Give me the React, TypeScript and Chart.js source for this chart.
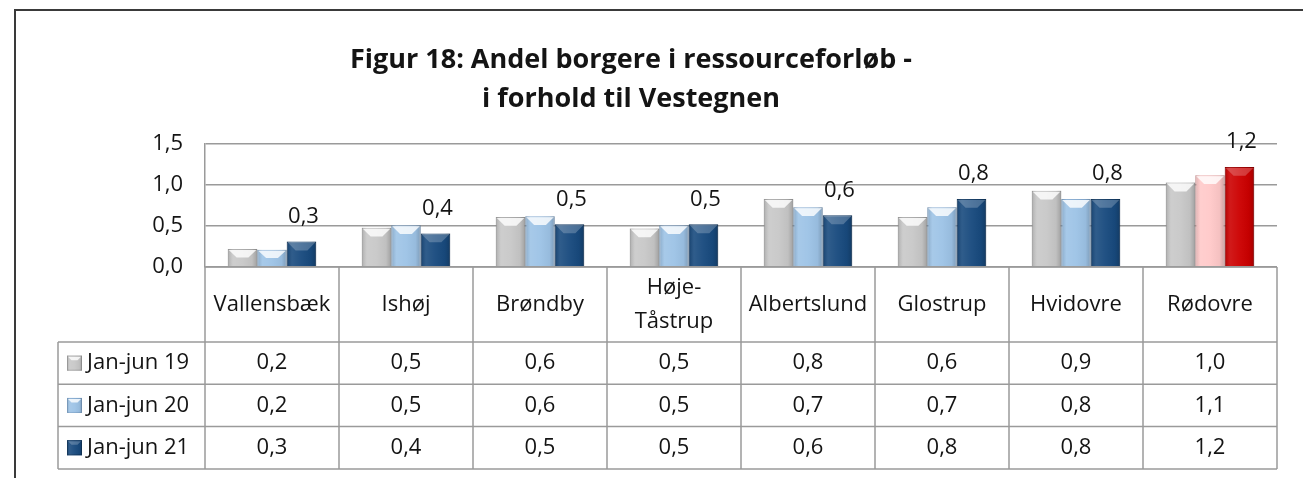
import React, { useEffect, useRef } from "react";
import { Chart, registerables } from "chart.js";
Chart.register(...registerables);

const categories = ["Vallensbæk", "Ishøj", "Brøndby", "Høje-Tåstrup", "Albertslund", "Glostrup", "Hvidovre", "Rødovre"];
const seriesNames = ["Jan-jun 19", "Jan-jun 20", "Jan-jun 21"];
const jan19 = [0.22, 0.48, 0.61, 0.47, 0.83, 0.61, 0.93, 1.03];
const jan20 = [0.21, 0.51, 0.62, 0.51, 0.73, 0.73, 0.83, 1.12];
const jan21 = [0.31, 0.41, 0.52, 0.52, 0.63, 0.83, 0.83, 1.22];
const yMin = 0;
const yMax = 1.5;
const yStep = 0.5;
const titleLines = ["Figur 18: Andel borgere i ressourceforløb -", "i forhold til Vestegnen"];
const highlightCategory = "Rødovre";

const baseColors = ["#c8c8c8", "#9dc3e6", "#184a7e"];
const highlightColors = ["#c8c8c8", "#ffc9c9", "#cc0000"];
const borderColors = ["#a9a9a9", "#84a9cf", "#123a63"];
const highlightBorders = ["#a9a9a9", "#e8a8a8", "#9a0000"];

const FONT = '"Open Sans", sans-serif';
const TEXT = "#141414";
const LINE = "#9a9a9a";
const fmt = (v: number) => v.toFixed(1).replace(".", ",");

function colorsFor(ds: number) {
  return categories.map((c) => (c === highlightCategory ? highlightColors[ds] : baseColors[ds]));
}
function bordersFor(ds: number) {
  return categories.map((c) => (c === highlightCategory ? highlightBorders[ds] : borderColors[ds]));
}

function bevel(ctx: CanvasRenderingContext2D, left: number, top: number, w: number, h: number, dark: boolean) {
  const g = ctx.createLinearGradient(left, 0, left + w, 0);
  g.addColorStop(0, "rgba(0,0,0,0.14)");
  g.addColorStop(0.18, "rgba(255,255,255,0.10)");
  g.addColorStop(0.5, "rgba(255,255,255,0.04)");
  g.addColorStop(0.82, "rgba(0,0,0,0.04)");
  g.addColorStop(1, "rgba(0,0,0,0.2)");
  ctx.fillStyle = g;
  ctx.fillRect(left, top, w, h);
  const ch = Math.min(h * 0.5, Math.max(4, w * 0.3));
  ctx.beginPath();
  ctx.moveTo(left + 1, top + 1);
  ctx.lineTo(left + w - 1, top + 1);
  ctx.lineTo(left + w * 0.7, top + ch);
  ctx.lineTo(left + w * 0.3, top + ch);
  ctx.closePath();
  ctx.fillStyle = dark ? "rgba(255,255,255,0.22)" : "rgba(255,255,255,0.8)";
  ctx.fill();
}

const decorPlugin = {
  id: "decor",
  beforeDraw(chart: any) {
    const ctx = chart.ctx as CanvasRenderingContext2D;
    ctx.save();
    ctx.fillStyle = "#ffffff";
    ctx.fillRect(0, 0, chart.width, chart.height);
    ctx.strokeStyle = "#3a3a3a";
    ctx.lineWidth = 2;
    ctx.beginPath();
    ctx.moveTo(15, chart.height);
    ctx.lineTo(15, 10);
    ctx.lineTo(chart.width, 10);
    ctx.stroke();
    ctx.fillStyle = TEXT;
    ctx.font = `bold 27px ${FONT}`;
    ctx.textAlign = "center";
    ctx.textBaseline = "alphabetic";
    titleLines.forEach((t, i) => ctx.fillText(t, 631, 68 + i * 39));
    ctx.restore();
  },
  afterDatasetsDraw(chart: any) {
    const ctx = chart.ctx as CanvasRenderingContext2D;
    ctx.save();
    chart.data.datasets.forEach((ds: any, di: number) => {
      const meta = chart.getDatasetMeta(di);
      meta.data.forEach((el: any) => {
        const p = el.getProps(["x", "y", "base", "width"], true);
        const left = p.x - p.width / 2;
        bevel(ctx, left, p.y, p.width, p.base - p.y, di === 2);
      });
    });
    const last = chart.data.datasets.length - 1;
    const meta = chart.getDatasetMeta(last);
    ctx.fillStyle = TEXT;
    ctx.font = `22px ${FONT}`;
    ctx.textAlign = "center";
    ctx.textBaseline = "bottom";
    meta.data.forEach((el: any, i: number) => {
      const p = el.getProps(["x", "y"], true);
      ctx.fillText(fmt(chart.data.datasets[last].data[i]), p.x + 2, p.y - 14);
    });
    ctx.restore();
  },
  afterDraw(chart: any) {
    const ctx = chart.ctx as CanvasRenderingContext2D;
    const area = chart.chartArea;
    const xs = chart.scales.x;
    const n = categories.length;
    const colW = (area.right - area.left) / n;
    const top = area.bottom;
    const catH = 75;
    const rowH = 42.3;
    const tableLeft = 58;
    const rowsTop = top + catH;
    const bottom = rowsTop + rowH * seriesNames.length;
    ctx.save();
    ctx.strokeStyle = LINE;
    ctx.lineWidth = 1.5;
    ctx.beginPath();
    for (let i = 0; i <= n; i++) {
      const x = area.left + i * colW;
      ctx.moveTo(x, top);
      ctx.lineTo(x, bottom);
    }
    ctx.moveTo(area.left, top);
    ctx.lineTo(area.right, top);
    for (let r = 0; r <= seriesNames.length; r++) {
      const y = rowsTop + r * rowH;
      ctx.moveTo(tableLeft, y);
      ctx.lineTo(area.right, y);
    }
    ctx.moveTo(tableLeft, rowsTop);
    ctx.lineTo(tableLeft, bottom);
    ctx.stroke();

    ctx.fillStyle = TEXT;
    ctx.font = `22px ${FONT}`;
    ctx.textAlign = "center";
    ctx.textBaseline = "middle";
    categories.forEach((c, i) => {
      const cx = xs.getPixelForValue(i);
      const cy = top + catH / 2;
      const maxW = colW - 6;
      if (ctx.measureText(c).width > maxW && c.includes("-")) {
        const k = c.indexOf("-") + 1;
        ctx.fillText(c.slice(0, k), cx, cy - 17);
        ctx.fillText(c.slice(k), cx, cy + 17);
      } else {
        ctx.fillText(c, cx, cy);
      }
    });
    chart.data.datasets.forEach((ds: any, di: number) => {
      const cy = rowsTop + rowH * di + rowH / 2;
      ds.data.forEach((v: number, i: number) => {
        ctx.fillStyle = TEXT;
        ctx.textAlign = "center";
        ctx.fillText(fmt(v), xs.getPixelForValue(i), cy);
      });
      const kx = 67, ks = 15;
      ctx.fillStyle = baseColors[di];
      ctx.fillRect(kx, cy - ks / 2, ks, ks);
      ctx.strokeStyle = borderColors[di];
      ctx.lineWidth = 1;
      ctx.strokeRect(kx + 0.5, cy - ks / 2 + 0.5, ks - 1, ks - 1);
      bevel(ctx, kx, cy - ks / 2, ks, ks, di === 2);
      ctx.fillStyle = TEXT;
      ctx.textAlign = "left";
      ctx.fillText(ds.label, kx + ks + 5, cy);
    });
    ctx.restore();
  },
};

export default function App() {
  const ref = useRef<HTMLCanvasElement | null>(null);
  useEffect(() => {
    document.body.style.margin = "0";
    const canvas = ref.current!;
    const series = [jan19, jan20, jan21];
    const chart = new Chart(canvas, {
      type: "bar",
      data: {
        labels: categories,
        datasets: series.map((d, i) => ({
          label: seriesNames[i],
          data: d,
          backgroundColor: colorsFor(i),
          borderColor: bordersFor(i),
          borderWidth: 1,
          categoryPercentage: 0.66,
          barPercentage: 1,
        })),
      },
      options: {
        responsive: false,
        animation: false,
        devicePixelRatio: 1,
        layout: { padding: { top: 144, right: 26, bottom: 211, left: 0 } },
        plugins: { legend: { display: false }, title: { display: false }, tooltip: { enabled: false } },
        scales: {
          x: { display: false, grid: { display: false } },
          y: {
            min: yMin,
            max: yMax,
            afterFit: (s: any) => {
              s.width = 205;
            },
            ticks: {
              stepSize: yStep,
              padding: 22,
              color: TEXT,
              font: { family: FONT, size: 22 },
              callback: (v: any) => fmt(Number(v)),
            },
            grid: { color: LINE, lineWidth: 1.5, drawTicks: false },
            border: { display: true, color: LINE, width: 1.5 },
          },
        },
      },
      plugins: [decorPlugin],
    });
    return () => chart.destroy();
  }, []);
  return (
    <div style={{ width: 1303, height: 478, position: "relative" }}>
      <canvas ref={ref} width={1303} height={478} style={{ display: "block" }} />
    </div>
  );
}
